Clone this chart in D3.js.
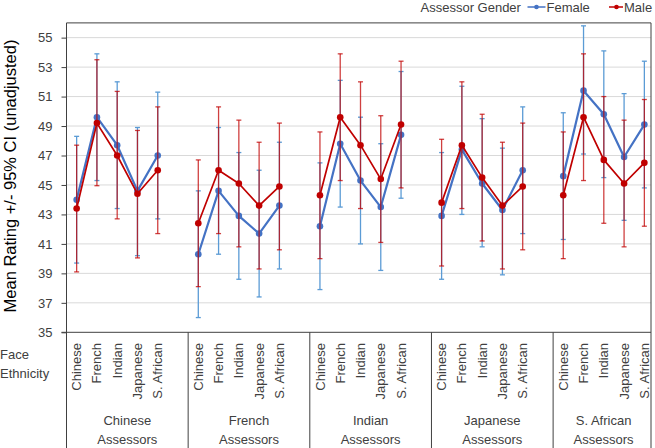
<!DOCTYPE html>
<html>
<head>
<meta charset="utf-8">
<script src="https://cdn.jsdelivr.net/npm/d3@7"></script>
<style>
  html, body { margin: 0; padding: 0; background: #fff; }
  svg { display: block; font-family: "Liberation Sans", Arial, sans-serif; }
</style>
</head>
<body>
<svg id="chart" width="655" height="448"></svg>
<script>
// ---- Data ----
const assessors = ["Chinese", "French", "Indian", "Japanese", "S. African"];
const faces = ["Chinese", "French", "Indian", "Japanese", "S. African"];
const yTicks = [35, 37, 39, 41, 43, 45, 47, 49, 51, 53, 55];

const femaleMean = [
  [44.0, 49.6, 47.7, 44.6, 47.0],
  [40.3, 44.6, 42.9, 41.7, 43.6],
  [42.2, 47.8, 45.3, 43.5, 48.4],
  [42.9, 47.4, 45.1, 43.3, 46.0],
  [45.6, 51.4, 49.8, 46.9, 49.1]
];
const femaleLow = [
  [39.7, 45.3, 43.4, 40.2, 42.7],
  [36.0, 40.3, 38.6, 37.4, 39.3],
  [37.9, 43.5, 41.0, 39.2, 44.1],
  [38.6, 43.0, 40.8, 38.9, 41.7],
  [41.3, 47.1, 45.5, 42.6, 44.8]
];
const femaleHigh = [
  [48.3, 53.9, 52.0, 48.9, 51.3],
  [44.6, 48.9, 47.2, 46.0, 47.9],
  [46.5, 52.1, 49.6, 47.8, 52.7],
  [47.2, 51.7, 49.5, 47.5, 50.3],
  [49.9, 55.8, 54.1, 51.2, 53.4]
];
const maleMean = [
  [43.4, 49.2, 47.0, 44.4, 46.0],
  [42.4, 46.0, 45.1, 43.6, 44.9],
  [44.3, 49.6, 47.7, 45.4, 49.1],
  [43.8, 47.7, 45.5, 43.6, 44.9],
  [44.3, 49.6, 46.7, 45.1, 46.5]
];
const maleLow = [
  [39.1, 44.95, 42.7, 40.05, 41.7],
  [38.1, 41.7, 40.8, 39.3, 40.6],
  [40.0, 45.3, 43.4, 41.1, 44.8],
  [39.5, 43.4, 41.2, 39.3, 40.6],
  [40.0, 45.3, 42.4, 40.8, 42.2]
];
const maleHigh = [
  [47.7, 53.5, 51.35, 48.7, 50.3],
  [46.7, 50.3, 49.4, 47.9, 49.2],
  [48.6, 53.9, 52.0, 49.7, 53.4],
  [48.1, 52.0, 49.8, 47.9, 49.2],
  [48.6, 53.9, 51.0, 49.4, 50.8]
];

// ---- Layout ----
const svg = d3.select("#chart");
const plotLeft = 66.5, plotRight = 651, plotTop = 22.9, plotBottom = 332.3;
const textColor = "#404040";
const femaleColor = "#4472C4", femaleErr = "#5B9BD5";
const maleColor = "#C00000", maleErr = "#C00000";

// 29 slots: each group of 5 faces followed by one blank slot (none after last)
const nSlots = assessors.length * (faces.length + 1) - 1;
const x = d3.scaleBand().domain(d3.range(nSlots)).range([plotLeft, 654.5]).padding(0);
const bw = x.bandwidth();
const cx = (g, f) => x(g * (faces.length + 1) + f) + bw / 2;

const y = d3.scaleLinear().domain([35, 56]).range([plotBottom, plotTop]);

// gridlines
svg.append("g").selectAll("line").data(yTicks.filter(t => t > 35)).join("line")
  .attr("x1", plotLeft).attr("x2", plotRight)
  .attr("y1", d => y(d)).attr("y2", d => y(d))
  .attr("stroke", "#D9D9D9").attr("stroke-width", 1);

// y axis
const yAxis = d3.axisLeft(y).tickValues(yTicks).tickSize(5).tickPadding(9).tickFormat(d3.format("d"));
const ya = svg.append("g").attr("transform", `translate(${plotLeft},0)`).call(yAxis);
ya.select(".domain").remove();
ya.selectAll(".tick line").attr("stroke", "#404040");
ya.selectAll(".tick text").attr("fill", textColor).attr("font-size", 13)
  .attr("font-family", "'Liberation Sans', Arial, sans-serif");

// frame
svg.append("line").attr("x1", plotLeft).attr("x2", plotRight).attr("y1", plotTop).attr("y2", plotTop)
  .attr("stroke", "#404040").attr("stroke-width", 1);
svg.append("line").attr("x1", plotLeft).attr("x2", plotLeft).attr("y1", plotTop).attr("y2", 448)
  .attr("stroke", "#404040").attr("stroke-width", 1);
svg.append("line").attr("x1", plotRight).attr("x2", plotRight).attr("y1", plotTop).attr("y2", 448)
  .attr("stroke", "#404040").attr("stroke-width", 1);
svg.append("line").attr("x1", plotLeft - 5).attr("x2", plotRight).attr("y1", plotBottom).attr("y2", plotBottom)
  .attr("stroke", "#404040").attr("stroke-width", 1);

// group dividers below the axis
svg.append("g").selectAll("line").data(d3.range(1, assessors.length)).join("line")
  .attr("x1", g => x(g * (faces.length + 1))).attr("x2", g => x(g * (faces.length + 1)))
  .attr("y1", plotBottom).attr("y2", 448)
  .attr("stroke", "#404040").attr("stroke-width", 1);

// category tick labels (rotated)
assessors.forEach((a, g) => {
  faces.forEach((f, i) => {
    svg.append("text")
      .attr("transform", `translate(${cx(g, i)},343) rotate(-90)`)
      .attr("text-anchor", "end").attr("dy", "0.35em")
      .attr("font-size", 13).attr("fill", textColor).text(f);
  });
  const start = x(g * (faces.length + 1));
  const end = g < assessors.length - 1 ? x((g + 1) * (faces.length + 1)) : 654;
  const mid = (start + end) / 2;
  svg.append("text").attr("x", mid).attr("y", 425).attr("text-anchor", "middle")
    .attr("font-size", 13).attr("fill", textColor).text(a);
  svg.append("text").attr("x", mid).attr("y", 443.5).attr("text-anchor", "middle")
    .attr("font-size", 13).attr("fill", textColor).text("Assessors");
});

svg.append("text").attr("x", 0).attr("y", 359).attr("font-size", 13).attr("fill", textColor).text("Face");
svg.append("text").attr("x", 0).attr("y", 377.5).attr("font-size", 13).attr("fill", textColor).text("Ethnicity");

// y title
svg.append("text").attr("transform", "translate(15.5,176) rotate(-90)")
  .attr("text-anchor", "middle").attr("font-size", 16.5).attr("fill", "#000")
  .text("Mean Rating +/- 95% CI (unadjusted)");

// series drawing
function drawSeries(mean, low, high, lineColor, errColor, errOpacity, lw) {
  const gS = svg.append("g");
  assessors.forEach((a, g) => {
    // error bars
    faces.forEach((f, i) => {
      const xx = cx(g, i);
      const eb = gS.append("g").attr("stroke", errColor).attr("stroke-opacity", errOpacity).attr("stroke-width", 1.3);
      eb.append("line").attr("x1", xx).attr("x2", xx).attr("y1", y(low[g][i])).attr("y2", y(high[g][i]));
      eb.append("line").attr("x1", xx - 2.5).attr("x2", xx + 2.5).attr("y1", y(low[g][i])).attr("y2", y(low[g][i]));
      eb.append("line").attr("x1", xx - 2.5).attr("x2", xx + 2.5).attr("y1", y(high[g][i])).attr("y2", y(high[g][i]));
    });
  });
  assessors.forEach((a, g) => {
    const line = d3.line().x((d, i) => cx(g, i)).y(d => y(d));
    gS.append("path").datum(mean[g]).attr("d", line)
      .attr("fill", "none").attr("stroke", lineColor).attr("stroke-width", lw).attr("stroke-linejoin", "round");
    gS.selectAll(null).data(mean[g]).join("circle")
      .attr("cx", (d, i) => cx(g, i)).attr("cy", d => y(d)).attr("r", 3.3)
      .attr("fill", lineColor);
  });
}
drawSeries(femaleMean, femaleLow, femaleHigh, femaleColor, femaleErr, 1, 2.2);
drawSeries(maleMean, maleLow, maleHigh, maleColor, maleErr, 0.75, 1.7);

// legend
const lg = svg.append("g");
lg.append("text").attr("x", 420.5).attr("y", 11.5).attr("font-size", 13).attr("fill", textColor).text("Assessor Gender");
lg.append("line").attr("x1", 527.5).attr("x2", 545.5).attr("y1", 7).attr("y2", 7).attr("stroke", femaleColor).attr("stroke-width", 1.5);
lg.append("circle").attr("cx", 536.5).attr("cy", 7).attr("r", 2.3).attr("fill", femaleColor);
lg.append("text").attr("x", 546.5).attr("y", 11.5).attr("font-size", 13).attr("fill", textColor).text("Female");
lg.append("line").attr("x1", 609).attr("x2", 623).attr("y1", 7).attr("y2", 7).attr("stroke", maleColor).attr("stroke-width", 1.5);
lg.append("circle").attr("cx", 616.5).attr("cy", 7).attr("r", 2.3).attr("fill", maleColor);
lg.append("text").attr("x", 624).attr("y", 11.5).attr("font-size", 13).attr("fill", textColor).text("Male");
</script>
</body>
</html>
